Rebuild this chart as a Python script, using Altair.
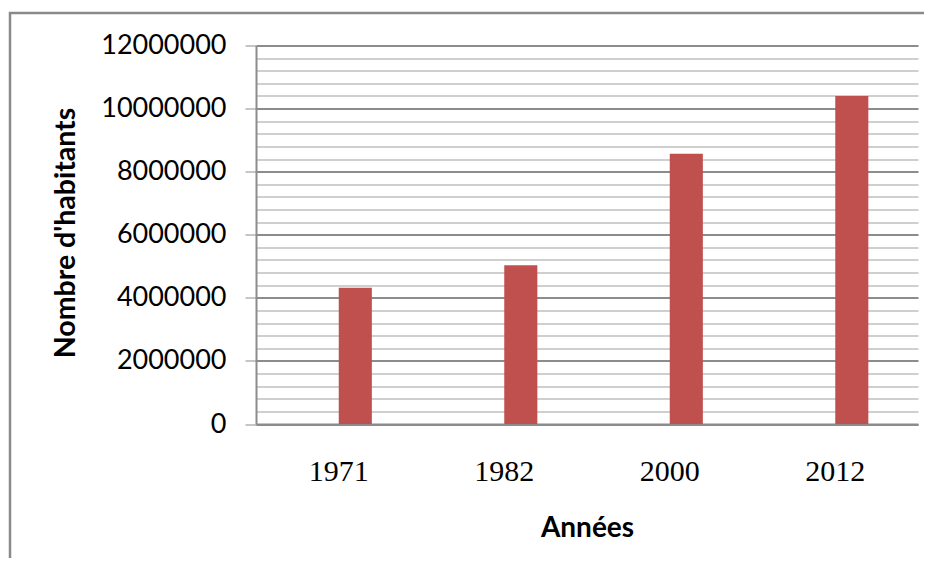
import altair as alt
import pandas as pd

years = ["1971", "1982", "2000", "2012"]
population = [4320000, 5030000, 8570000, 10400000]
series = ["habitants", "habitants", "habitants", "habitants"]
series_domain = ["gap_a", "annees", "habitants", "gap_b"]
y_ticks = list(range(0, 12000001, 400000))

df = pd.DataFrame({"annee": years, "pop": population, "serie": series})

W, H = 662, 378.5

bars = alt.Chart(df).mark_bar(color="#C0504D").encode(
    x=alt.X(
        "annee:N",
        sort=years,
        scale=alt.Scale(paddingInner=0, paddingOuter=0),
        axis=alt.Axis(
            title="Années",
            labelAngle=0,
            labelFont="Liberation Serif",
            labelFontSize=30,
            labelColor="#000000",
            labelBaseline="alphabetic",
            labelPadding=56,
            ticks=False,
            tickSize=0,
            domainColor="#8c8c8c",
            domainWidth=2,
            titleFont="Lato",
            titleFontSize=28,
            titleFontWeight="bold",
            titleColor="#000000",
            titleBaseline="alphabetic",
            titleX=W / 2,
            titleY=112,
        ),
    ),
    xOffset=alt.XOffset(
        "serie:N",
        scale=alt.Scale(domain=series_domain, paddingInner=0, paddingOuter=0.5),
    ),
    y=alt.Y(
        "pop:Q",
        scale=alt.Scale(domain=[0, 12000000], nice=False),
        axis=alt.Axis(
            title="Nombre d'habitants",
            values=y_ticks,
            labelExpr="datum.value % 2000000 === 0 ? format(datum.value, 'd') : ''",
            labelFont="Lato",
            labelFontSize=27,
            labelColor="#000000",
            labelPadding=19,
            tickSize=11,
            tickColor="#8c8c8c",
            tickOpacity={"condition": {"test": "datum.value % 2000000 === 0", "value": 1}, "value": 0},
            gridColor={"condition": {"test": "datum.value % 2000000 === 0", "value": "#8c8c8c"}, "value": "#cfcfcf"},
            gridWidth=2,
            domainColor="#8c8c8c",
            domainWidth=2,
            titleFont="Lato",
            titleFontSize=28.5,
            titleFontWeight="bold",
            titleColor="#000000",
            titleAngle=-90,
            titleAlign="center",
            titleBaseline="middle",
            titleX=-191,
            titleY=187,
        ),
    ),
)

border = alt.Chart(pd.DataFrame({"a": [0]})).mark_rect(
    fill=None, stroke="#8a8a8a", strokeWidth=2.5
).encode(
    x=alt.value(-246), x2=alt.value(720), y=alt.value(-32.5), y2=alt.value(620)
)

chart = alt.layer(border, bars).properties(
    width=W,
    height=H,
    autosize=alt.AutoSizeParams(type="none"),
    padding={"left": 248, "top": 37.5, "right": 6, "bottom": 134},
    background="white",
).configure_view(stroke=None)

chart.save("out.html", embed_options={"renderer": "svg", "actions": False})
